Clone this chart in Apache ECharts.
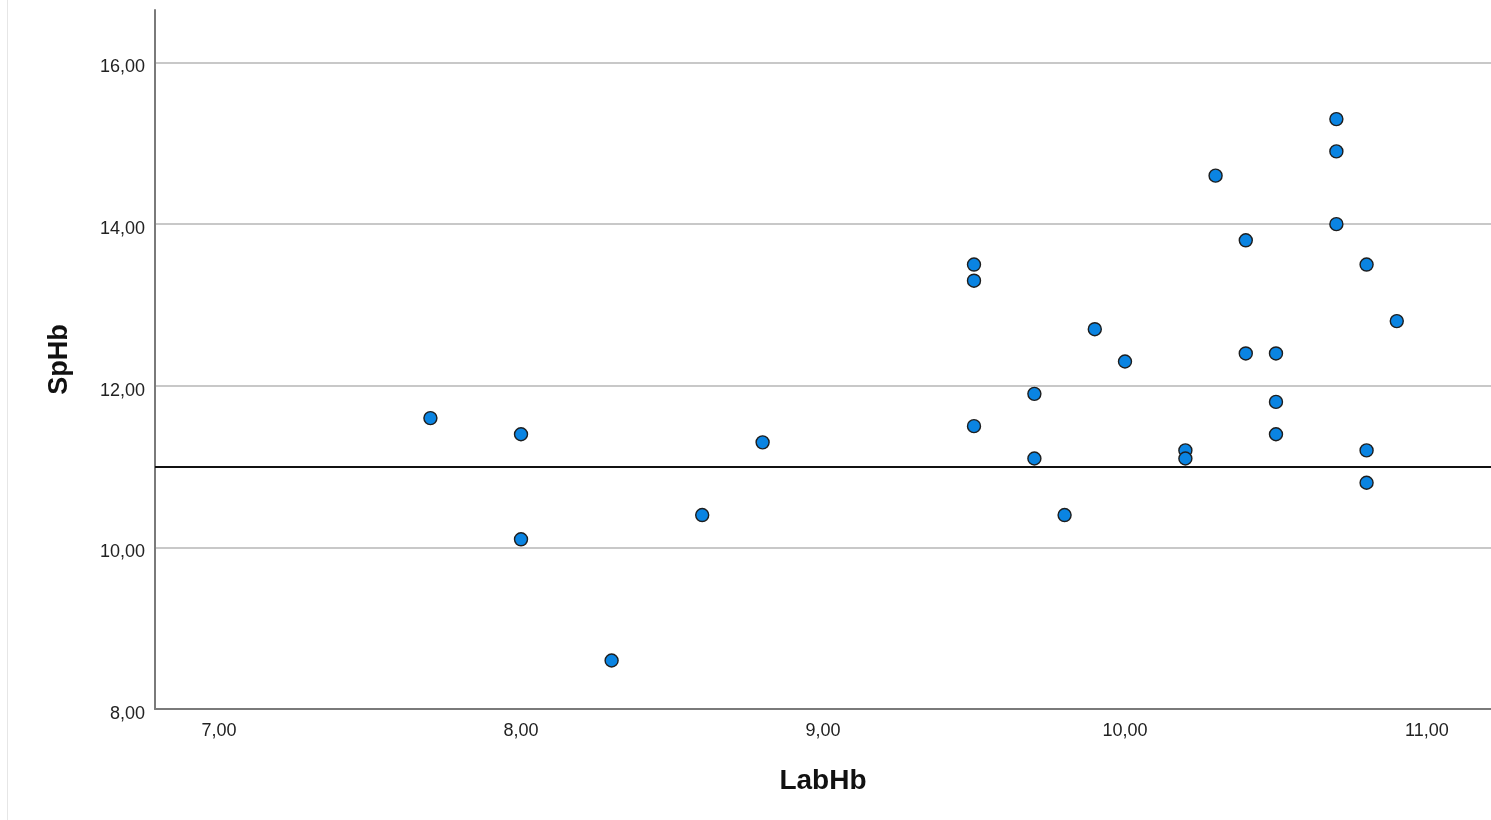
<!DOCTYPE html>
<html>
<head>
<meta charset="utf-8">
<script src="https://cdn.jsdelivr.net/npm/echarts@6/dist/echarts.min.js"></script>
<style>
html,body{margin:0;padding:0;background:#fff;}
#chart{width:1491px;height:820px;}
</style>
</head>
<body>
<div id="chart"></div>
<script>
const labHb = [7.7, 8.0, 8.0, 8.3, 8.6, 8.8, 9.5, 9.5, 9.5, 9.7, 9.7, 9.8, 9.9, 10.0, 10.2, 10.2, 10.3, 10.4, 10.4, 10.5, 10.5, 10.5, 10.7, 10.7, 10.7, 10.8, 10.8, 10.8, 10.9];
const spHb  = [11.6, 11.4, 10.1, 8.6, 10.4, 11.3, 13.5, 13.3, 11.5, 11.9, 11.1, 10.4, 12.7, 12.3, 11.2, 11.1, 14.6, 13.8, 12.4, 12.4, 11.8, 11.4, 15.3, 14.9, 14.0, 13.5, 11.2, 10.8, 12.8];
const xTicks = [7, 8, 9, 10, 11];
const yTicks = [8, 10, 12, 14, 16];
const refLineY = 11;
const xTitle = 'LabHb';
const yTitle = 'SpHb';

const points = labHb.map((x, i) => [x, spHb[i]]);
const fmt = v => Number(v).toFixed(2).replace('.', ',');
const font = '"Liberation Sans", Arial, sans-serif';

const chart = echarts.init(document.getElementById('chart'), null, {renderer: 'canvas'});
chart.setOption({
  animation: false,
  backgroundColor: '#ffffff',
  grid: {left: 155, right: 0, top: 10, bottom: 111, containLabel: false},
  graphic: [{
    type: 'line', shape: {x1: 7.5, y1: 0, x2: 7.5, y2: 820},
    style: {stroke: '#e6e6e6', lineWidth: 1}, silent: true
  }],
  xAxis: {
    type: 'value', min: 6.788, max: 11.212,
    name: xTitle, nameLocation: 'middle', nameGap: 58,
    nameTextStyle: {fontFamily: font, fontSize: 28, fontWeight: 'bold', color: '#111'},
    axisLine: {show: true, onZero: false, lineStyle: {color: '#7a7a7a', width: 2}},
    axisTick: {show: false, customValues: xTicks},
    axisLabel: {customValues: xTicks, formatter: fmt, fontFamily: font, fontSize: 18, color: '#222', margin: 13},
    splitLine: {show: false}
  },
  yAxis: {
    type: 'value', min: 8, max: 16.65,
    name: yTitle, nameLocation: 'middle', nameGap: 82, nameRotate: 90,
    nameTextStyle: {fontFamily: font, fontSize: 27, fontWeight: 'bold', color: '#111'},
    axisLine: {show: true, onZero: false, lineStyle: {color: '#7a7a7a', width: 2}},
    axisTick: {show: false, customValues: yTicks},
    axisLabel: {customValues: yTicks, formatter: fmt, fontFamily: font, fontSize: 18, color: '#222', margin: 10, verticalAlign: 'top', lineHeight: 10},
    splitLine: {show: true, lineStyle: {color: '#c8c8c8', width: 2}}
  },
  series: [{
    type: 'scatter',
    data: points,
    symbol: 'circle',
    symbolSize: 13,
    itemStyle: {color: '#0a84e2', borderColor: '#1e1e1e', borderWidth: 1.4, opacity: 1},
    markLine: {
      silent: true, symbol: 'none', label: {show: false},
      lineStyle: {color: '#111', width: 2, type: 'solid'},
      data: [{yAxis: refLineY}]
    },
    z: 3
  }]
});
</script>
</body>
</html>
